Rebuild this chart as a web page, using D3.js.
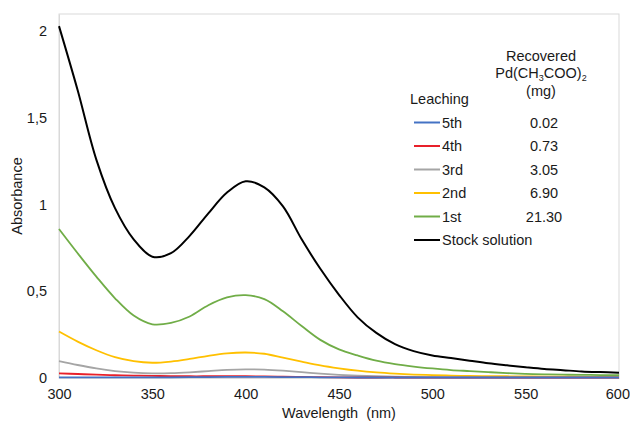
<!DOCTYPE html>
<html>
<head>
<meta charset="utf-8">
<script src="https://cdn.jsdelivr.net/npm/d3@7"></script>
<style>
  html, body { margin: 0; padding: 0; background: #fff; }
  svg { display: block; font-family: "Liberation Sans", Arial, sans-serif; }
</style>
</head>
<body>
<svg id="chart" width="630" height="422"></svg>
<script>
// ---- Data ----
const wavelengths = [300,310,320,330,340,350,360,370,380,390,400,410,420,430,440,450,460,470,480,490,500,510,520,530,540,550,560,570,580,590,600];

const stockValues = [2.03,1.66,1.26,0.98,0.80,0.70,0.72,0.82,0.95,1.07,1.135,1.10,0.99,0.80,0.63,0.48,0.35,0.26,0.195,0.155,0.13,0.115,0.10,0.085,0.073,0.062,0.052,0.045,0.038,0.034,0.031];
const firstValues = [0.86,0.72,0.585,0.46,0.36,0.31,0.318,0.355,0.42,0.465,0.478,0.455,0.385,0.30,0.22,0.165,0.13,0.10,0.08,0.066,0.055,0.046,0.04,0.034,0.028,0.024,0.021,0.019,0.018,0.017,0.016];
const secondValues = [0.268,0.21,0.16,0.12,0.097,0.088,0.095,0.11,0.128,0.142,0.147,0.14,0.118,0.095,0.073,0.056,0.042,0.032,0.025,0.02,0.017,0.014,0.012,0.011,0.01,0.009,0.008,0.008,0.007,0.007,0.007];
const thirdValues = [0.098,0.075,0.055,0.04,0.031,0.027,0.028,0.033,0.04,0.047,0.05,0.048,0.042,0.034,0.025,0.018,0.013,0.01,0.008,0.006,0.005,0.004,0.004,0.004,0.003,0.003,0.003,0.003,0.003,0.003,0.003];
const fourthValues = [0.027,0.023,0.019,0.016,0.014,0.012,0.011,0.01,0.01,0.01,0.01,0.009,0.008,0.006,0.005,0.004,0.003,0.003,0.003,0.002,0.002,0.002,0.002,0.002,0.002,0.002,0.002,0.002,0.002,0.002,0.002];
const fifthValues = [0.004,0.004,0.004,0.004,0.004,0.004,0.004,0.005,0.005,0.006,0.006,0.006,0.005,0.005,0.004,0.004,0.003,0.003,0.003,0.003,0.003,0.003,0.003,0.003,0.003,0.003,0.003,0.003,0.003,0.003,0.003];

const seriesNames = ["5th","4th","3rd","2nd","1st","Stock solution"];
const recoveredMg = ["0.02","0.73","3.05","6.90","21.30",""];
const seriesColors = ["#4472C4","#E8202A","#A5A5A5","#FFC000","#70AD47","#000000"];

const xTicks = [300,350,400,450,500,550,600];
const yTicks = [0,0.5,1,1.5,2];
const yTickLabels = ["0","0,5","1","1,5","2"];

// ---- Layout ----
const svg = d3.select("#chart");
const pLeft = 59, pRight = 619, pTop = 14, pBottom = 378;
const fs = 14.5;

const x = d3.scaleLinear().domain([300,600]).range([pLeft,pRight]);
const y = d3.scaleLinear().domain([0,2.1]).range([pBottom,pTop]);

// plot area border
svg.append("rect")
  .attr("x", pLeft).attr("y", pTop)
  .attr("width", pRight-pLeft).attr("height", pBottom-pTop)
  .attr("fill", "none").attr("stroke", "#d9d9d9").attr("stroke-width", 1);

// axes (labels only)
const xAxis = svg.append("g").attr("transform", `translate(0,${pBottom})`)
  .call(d3.axisBottom(x).tickValues(xTicks).tickSize(0).tickPadding(11).tickFormat(d3.format("d")));
xAxis.select(".domain").attr("stroke", "#d9d9d9");
xAxis.selectAll("text").attr("font-size", fs).attr("fill", "#1a1a1a").attr("font-family", "Liberation Sans, Arial, sans-serif");
// keep the last label inside the page
xAxis.selectAll(".tick").filter(d => d === 600).select("text").attr("text-anchor", "end").attr("dx", 10.5);

const yAxis = svg.append("g").attr("transform", `translate(${pLeft},0)`)
  .call(d3.axisLeft(y).tickValues(yTicks).tickSize(0).tickPadding(12).tickFormat((d,i) => yTickLabels[i]));
yAxis.select(".domain").attr("stroke", "#d9d9d9");
yAxis.selectAll("text").attr("font-size", fs).attr("fill", "#1a1a1a").attr("font-family", "Liberation Sans, Arial, sans-serif");

// axis titles
svg.append("text").attr("x", (pLeft+pRight)/2).attr("y", 418)
  .attr("text-anchor", "middle").attr("font-size", fs).attr("fill", "#1a1a1a")
  .style("white-space", "pre")
  .text("Wavelength  (nm)");
svg.append("text")
  .attr("transform", `translate(22,${(pTop+pBottom)/2}) rotate(-90)`)
  .attr("text-anchor", "middle").attr("font-size", fs).attr("fill", "#1a1a1a")
  .text("Absorbance");

// lines
const allSeries = [fifthValues, fourthValues, thirdValues, secondValues, firstValues, stockValues];
const line = d3.line()
  .x((d,i) => x(wavelengths[i]))
  .y(d => y(d))
  .curve(d3.curveCatmullRom.alpha(0.5));

const drawOrder = [5,4,3,2,1,0];
drawOrder.forEach(k => {
  svg.append("path")
    .datum(allSeries[k])
    .attr("d", line)
    .attr("fill", "none")
    .attr("stroke", seriesColors[k])
    .attr("stroke-width", k === 5 ? 2 : 1.8)
    .attr("stroke-linejoin", "round");
});

// legend
const lg = svg.append("g");
const hdrX = 541;
lg.append("text").attr("x", hdrX).attr("y", 61).attr("text-anchor","middle").attr("font-size",fs).attr("fill","#1a1a1a").text("Recovered");
const pd = lg.append("text").attr("x", hdrX).attr("y", 78).attr("text-anchor","middle").attr("font-size",fs).attr("fill","#1a1a1a");
pd.append("tspan").text("Pd(CH");
pd.append("tspan").attr("font-size", 9).attr("dy", 3).text("3");
pd.append("tspan").attr("dy", -3).text("COO)");
pd.append("tspan").attr("font-size", 9).attr("dy", 3).text("2");
lg.append("text").attr("x", hdrX).attr("y", 96).attr("text-anchor","middle").attr("font-size",fs).attr("fill","#1a1a1a").text("(mg)");
lg.append("text").attr("x", 410).attr("y", 104).attr("font-size",fs).attr("fill","#1a1a1a").text("Leaching");

const rowY = d3.scaleLinear().domain([0,5]).range([122.5,240]);
seriesNames.forEach((name,i) => {
  const yy = rowY(i);
  lg.append("line").attr("x1",414).attr("x2",440).attr("y1",yy).attr("y2",yy)
    .attr("stroke", seriesColors[i]).attr("stroke-width", 2);
  lg.append("text").attr("x",442).attr("y",yy+5).attr("font-size",fs).attr("fill","#1a1a1a").text(name);
  if (recoveredMg[i]) {
    lg.append("text").attr("x",544).attr("y",yy+5).attr("text-anchor","middle").attr("font-size",fs).attr("fill","#1a1a1a").text(recoveredMg[i]);
  }
});
</script>
</body>
</html>
